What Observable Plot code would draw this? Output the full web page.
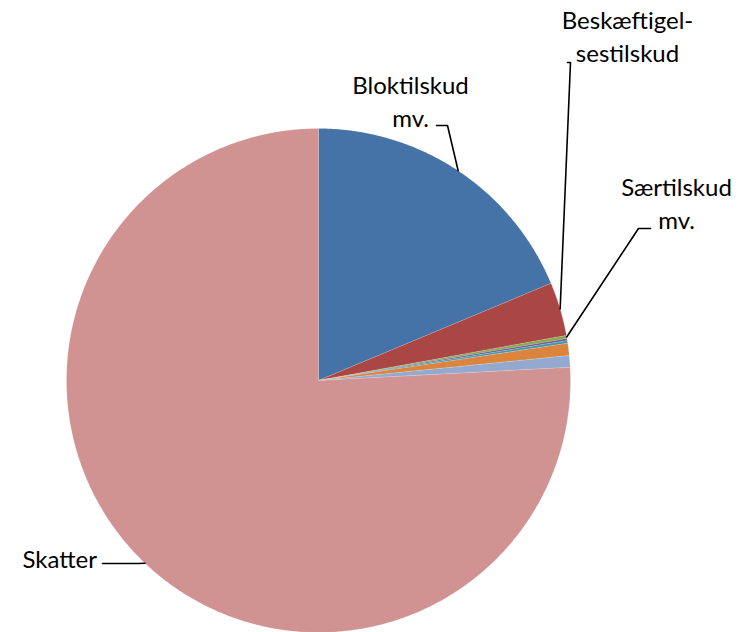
<!DOCTYPE html>
<html>
<head>
<meta charset="utf-8">
<script src="https://cdn.jsdelivr.net/npm/d3@7"></script>
<script src="https://cdn.jsdelivr.net/npm/@observablehq/plot@0.6"></script>
<style>
  html, body { margin: 0; padding: 0; background: #fff; }
</style>
</head>
<body>
<div id="chart"></div>
<script>
// ---- data (percent shares, clockwise from 12 o'clock) ----
const categories = ["Bloktilskud mv.", "Beskæftigelsestilskud", "Særtilskud mv.", "Øvrige 1", "Øvrige 2", "Øvrige 3", "Øvrige 4", "Skatter"];
const values = [18.7, 3.44, 0.19, 0.14, 0.17, 0.78, 0.75, 75.83];
const colors = ["#4572A7", "#AA4643", "#89A54E", "#71588F", "#4198AF", "#DB843D", "#93A9CF", "#D19392"];
const labelLines = {
  "Bloktilskud mv.": ["Bloktilskud", "mv."],
  "Beskæftigelsestilskud": ["Beskæftigel-", "sestilskud"],
  "Særtilskud mv.": ["Særtilskud", "mv."],
  "Skatter": ["Skatter"]
};

// ---- layout ----
const W = 748, H = 632;
const CX = 318, CY = 380, R = 252;
const FONT = "Lato, 'Open Sans', sans-serif";
const FS = 24, LH = 33;
const labelLayout = {
  "Bloktilskud mv.": {x: 410, y: 93, anchor: "middle", elbow: [[436, 125], [447, 125]]},
  "Beskæftigelsestilskud": {x: 627, y: 28, anchor: "middle", elbow: [[567, 62], [570, 62]]},
  "Særtilskud mv.": {x: 676, y: 195, anchor: "middle", elbow: [[650, 228], [638, 228]]},
  "Skatter": {x: 22, y: 567, anchor: "start", elbow: [[102, 563], [138, 563]]}
};

// ---- geometry from values ----
const total = d3.sum(values);
const slices = [];
let acc = 0;
categories.forEach((c, i) => {
  const a0 = acc / total * 2 * Math.PI;
  acc += values[i];
  const a1 = acc / total * 2 * Math.PI;
  slices.push({category: c, a0, a1, color: colors[i]});
});
const pt = (a, r = R) => [CX + r * Math.sin(a), CY - r * Math.cos(a)];

const polyPts = [];
for (const s of slices) {
  const n = Math.max(2, Math.ceil((s.a1 - s.a0) / 0.01));
  polyPts.push({category: s.category, x: CX, y: CY});
  for (let k = 0; k <= n; k++) {
    const [x, y] = pt(s.a0 + (s.a1 - s.a0) * k / n);
    polyPts.push({category: s.category, x, y});
  }
  polyPts.push({category: s.category, x: CX, y: CY});
}

const leaderPts = [];
const textRows = [];
for (const s of slices) {
  const L = labelLayout[s.category];
  if (!L) continue;
  const mid = (s.a0 + s.a1) / 2;
  const [ex, ey] = pt(mid);
  for (const [x, y] of L.elbow) leaderPts.push({category: s.category, x, y});
  leaderPts.push({category: s.category, x: ex, y: ey});
  labelLines[s.category].forEach((t, j) => {
    textRows.push({text: t, x: L.x, y: L.y + j * LH, anchor: L.anchor});
  });
}

const chart = Plot.plot({
  width: W,
  height: H,
  margin: 0,
  x: {domain: [0, W], range: [0, W], axis: null},
  y: {domain: [0, H], range: [0, H], axis: null},
  color: {domain: categories, range: colors},
  style: {fontFamily: FONT, background: "#fff"},
  marks: [
    Plot.line(polyPts, {x: "x", y: "y", z: "category", fill: "category", stroke: "white", strokeWidth: 0.2, strokeOpacity: 0.7, curve: "linear"}),
    Plot.line(leaderPts, {x: "x", y: "y", z: "category", stroke: "black", strokeWidth: 1.6}),
    Plot.text(textRows.filter(d => d.anchor === "middle"), {x: "x", y: "y", text: "text", textAnchor: "middle", lineAnchor: "bottom", fontSize: FS, fill: "black", fontFamily: FONT}),
    Plot.text(textRows.filter(d => d.anchor === "start"), {x: "x", y: "y", text: "text", textAnchor: "start", lineAnchor: "bottom", fontSize: FS, fill: "black", fontFamily: FONT})
  ]
});
document.getElementById("chart").appendChild(chart);
</script>
</body>
</html>
